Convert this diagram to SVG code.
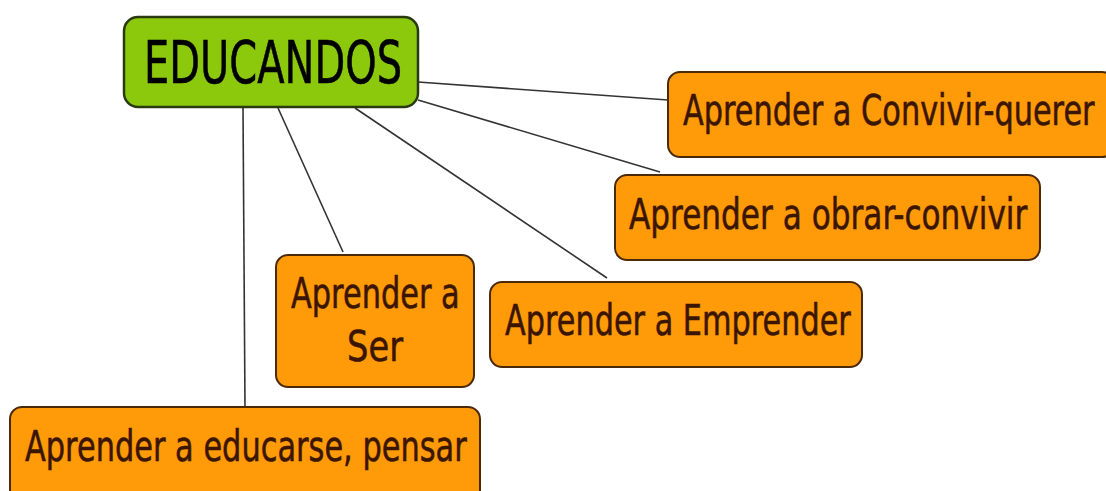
<svg xmlns="http://www.w3.org/2000/svg" width="1106" height="491" viewBox="0 0 1106 491">
<style>
.o rect{fill:#ff9a08;stroke:#4a2a08;stroke-width:2}
.o text{fill:#3a1500;stroke:#3a1500;stroke-width:0.6;font-family:"DejaVu Sans",Verdana,sans-serif;font-size:43px}
#educandos rect{fill:#8cc90c;stroke:#2a3a10;stroke-width:2.5}
#educandos text{fill:#000;stroke:#000;stroke-width:0.6;font-family:"DejaVu Sans",Verdana,sans-serif;font-size:58px}
#connectors line{stroke:#333;stroke-width:1.6}
</style>
<rect width="1106" height="491" fill="#fff"/>
<g id="connectors">
<line x1="418" y1="82" x2="668" y2="100"/>
<line x1="418" y1="100" x2="660" y2="172"/>
<line x1="355" y1="108" x2="607" y2="278"/>
<line x1="278" y1="108" x2="343" y2="252"/>
<line x1="243" y1="108" x2="245" y2="407"/>
</g>
<g id="educandos">
<rect x="124" y="17" width="294" height="90" rx="14"/>
<text transform="translate(144,83) scale(0.75,1)" textLength="344" lengthAdjust="spacingAndGlyphs">EDUCANDOS</text>
</g>
<g id="convivir" class="o">
<rect x="668" y="72" width="446" height="85" rx="12"/>
<text transform="translate(683,125) scale(0.7,1)" textLength="588" lengthAdjust="spacingAndGlyphs">Aprender a Convivir-querer</text>
</g>
<g id="obrar" class="o">
<rect x="615" y="175" width="425" height="85" rx="12"/>
<text transform="translate(629,229) scale(0.7,1)" textLength="569" lengthAdjust="spacingAndGlyphs">Aprender a obrar-convivir</text>
</g>
<g id="emprender" class="o">
<rect x="490" y="282" width="372" height="85" rx="12"/>
<text transform="translate(505,335) scale(0.7,1)" textLength="494" lengthAdjust="spacingAndGlyphs">Aprender a Emprender</text>
</g>
<g id="ser" class="o">
<rect x="276" y="255" width="198" height="132" rx="12"/>
<text transform="translate(291,308) scale(0.7,1)" textLength="241" lengthAdjust="spacingAndGlyphs">Aprender a</text>
<text transform="translate(347,361) scale(0.7,1)" textLength="80" lengthAdjust="spacingAndGlyphs">Ser</text>
</g>
<g id="educarse" class="o">
<rect x="10" y="407" width="470" height="95" rx="12"/>
<text transform="translate(25,461) scale(0.7,1)" textLength="631" lengthAdjust="spacingAndGlyphs">Aprender a educarse, pensar</text>
</g>
</svg>
